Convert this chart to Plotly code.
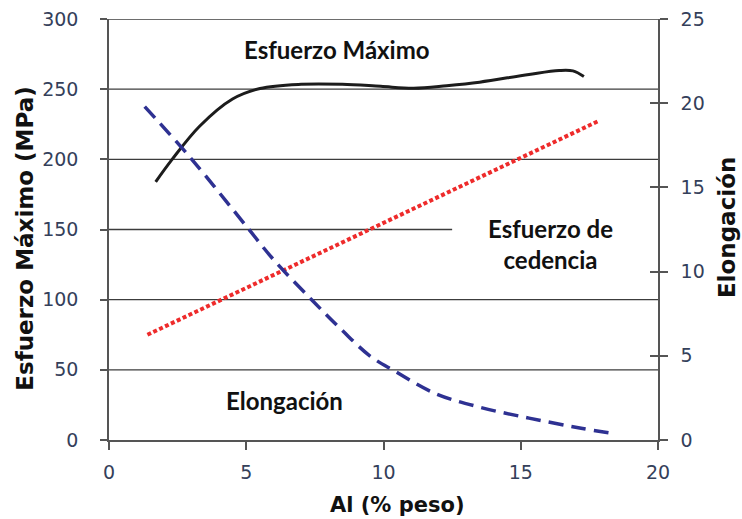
import plotly.graph_objects as go

# Al content (% weight) vs. mechanical properties
al_max = [1.7, 2.3, 3.3, 4.5, 5.5, 7.0, 8.5, 9.9, 11.1, 12.3, 13.5, 15.3, 16.4, 16.9, 17.3]
esfuerzo_max = [184, 200, 223.6, 243, 250.5, 253.5, 253.5, 252, 250.7, 252.5, 255, 260.5, 263.3, 263, 259]

al_ced = [1.4, 17.8]
esfuerzo_ced = [75, 227]

al_elong = [1.3, 3.0, 5.0, 6.0, 7.4, 8.5, 9.5, 10.4, 11.9, 13.5, 15.3, 17.2, 18.3]
elongacion = [19.8, 16.7, 12.7, 10.7, 8.3, 6.5, 5.0, 4.1, 2.75, 1.95, 1.3, 0.7, 0.4]

x_ticks = [0, 5, 10, 15, 20]
y_left_ticks = [0, 50, 100, 150, 200, 250, 300]
y_right_ticks = [0, 5, 10, 15, 20, 25]

# horizontal reference lines (value, x where the line ends)
grid_vals = [50, 100, 150, 200, 250, 300]
grid_ends = [20, 20, 12.5, 20, 20, 20]

TICK_FONT = dict(family="DejaVu Sans", size=19, color="#34405a")
LABEL_FONT = dict(family="Lato", size=24, color="#111111", weight="bold")
AXIS_COLOR = "#555555"


def title_font(size):
    return dict(family="DejaVu Sans", size=size, color="#111111", weight="bold")


fig = go.Figure()

fig.add_trace(go.Scatter(
    x=al_max, y=esfuerzo_max, mode="lines", line_shape="spline",
    line=dict(color="#1c1c1c", width=3), yaxis="y", showlegend=False))

fig.add_trace(go.Scatter(
    x=al_ced, y=esfuerzo_ced, mode="lines",
    line=dict(color="#ee2b2b", width=4, dash="4px,2.5px"), yaxis="y", showlegend=False))

fig.add_trace(go.Scatter(
    x=al_elong, y=elongacion, mode="lines", line_shape="spline",
    line=dict(color="#2e3192", width=3.5, dash="15px,8px"), yaxis="y2", showlegend=False))

for v, xe in zip(grid_vals, grid_ends):
    fig.add_shape(type="line", xref="x", yref="y", x0=0, x1=xe, y0=v, y1=v,
                  line=dict(color="#3c3c3c", width=1.3), layer="below")

# curve labels
fig.add_annotation(x=8.3, y=278, xref="x", yref="y", text="Esfuerzo Máximo",
                   showarrow=False, font=LABEL_FONT)
fig.add_annotation(x=16.07, y=140, xref="x", yref="y", text="Esfuerzo de<br>cedencia",
                   showarrow=False, font=LABEL_FONT, align="center")
fig.add_annotation(x=6.39, y=28, xref="x", yref="y", text="Elongación",
                   showarrow=False, font=LABEL_FONT)

# axis titles
fig.add_annotation(x=0.526, y=-0.155, xref="paper", yref="paper", text="Al (% peso)",
                   showarrow=False, font=title_font(21), xanchor="center", yanchor="middle")
fig.add_annotation(x=-0.153, y=0.478, xref="paper", yref="paper", text="Esfuerzo Máximo (MPa)",
                   showarrow=False, font=title_font(23), textangle=-90,
                   xanchor="center", yanchor="middle")
fig.add_annotation(x=1.127, y=0.505, xref="paper", yref="paper", text="Elongación",
                   showarrow=False, font=title_font(23), textangle=-90,
                   xanchor="center", yanchor="middle")

fig.update_layout(
    width=742, height=519,
    margin=dict(l=109, r=84, t=19, b=79),
    paper_bgcolor="white", plot_bgcolor="white",
    xaxis=dict(
        range=[0, 20], tickvals=x_ticks, showgrid=False, zeroline=False, automargin=False,
        showline=True, linecolor=AXIS_COLOR, linewidth=1.5,
        ticks="outside", ticklen=8, tickcolor=AXIS_COLOR, tickwidth=1.5,
        tickfont=TICK_FONT, ticklabelstandoff=6),
    yaxis=dict(
        range=[0, 300], tickvals=y_left_ticks, showgrid=False, zeroline=False, automargin=False,
        showline=True, linecolor=AXIS_COLOR, linewidth=1.5,
        ticks="outside", ticklen=7, tickcolor=AXIS_COLOR, tickwidth=1.5,
        tickfont=TICK_FONT, ticklabelstandoff=18),
    yaxis2=dict(
        range=[0, 25], tickvals=y_right_ticks, overlaying="y", side="right",
        showgrid=False, zeroline=False, automargin=False,
        showline=True, linecolor=AXIS_COLOR, linewidth=1.5,
        ticks="outside", ticklen=8, tickcolor=AXIS_COLOR, tickwidth=1.5,
        tickfont=TICK_FONT, ticklabelstandoff=9),
    yaxis3=dict(
        range=[0, 25], tickvals=y_right_ticks, overlaying="y", side="right",
        showgrid=False, zeroline=False, automargin=False,
        showline=False, showticklabels=False,
        ticks="inside", ticklen=8, tickcolor=AXIS_COLOR, tickwidth=1.5),
)

# invisible trace so the inner right-hand tick marks are drawn
fig.add_trace(go.Scatter(x=[None], y=[None], yaxis="y3", showlegend=False, hoverinfo="skip"))

fig.write_html("out.html")
